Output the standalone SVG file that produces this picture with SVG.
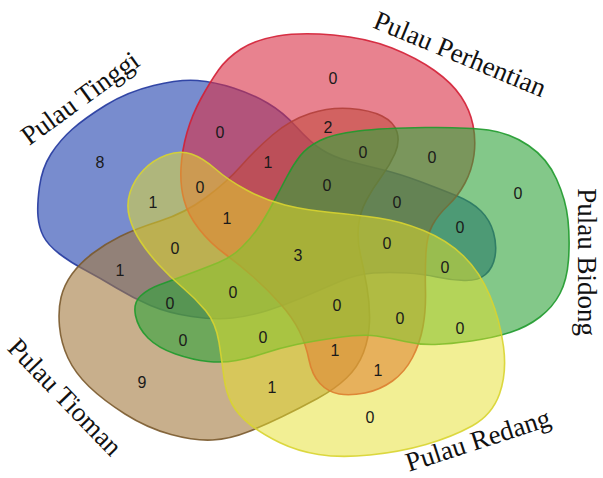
<svg xmlns="http://www.w3.org/2000/svg" width="603" height="478" viewBox="0 0 603 478">
<style>
.set{fill-opacity:0.6;stroke-width:1.6;stroke-opacity:0.9}
#set-redang path{fill-opacity:0.5}
.num{font-family:"Liberation Sans",Arial,sans-serif;font-size:16px;fill:#1a1a1a;text-anchor:middle}
.lbl{font-family:"Liberation Serif","Times New Roman",serif;font-size:27px;fill:#111;text-anchor:middle}
</style>
<rect width="603" height="478" fill="#ffffff"/>
<g id="set-tinggi">
<path class="set" fill="#1e3fae" stroke="#23399e" d="M 39.5,186.5 Q 42,168 51,154 Q 60,140 72.5,129 Q 85,118 106,105 Q 127,92 153.5,85.5 Q 180,79 197.5,80.5 Q 215,82 233.5,88 Q 252,94 267.5,103 Q 283,112 296.5,127 Q 310,142 321.5,149.5 Q 333,157 350,161.5 Q 367,166 383.5,170 Q 400,174 420,181.5 Q 440,189 456,195.5 Q 472,202 481,211 Q 490,220 493.5,232.5 Q 497,245 495,256.5 Q 493,268 485.5,274.5 Q 478,281 464,280.5 Q 450,280 436.5,277 Q 423,274 406.5,273 Q 390,272 373.5,273 Q 357,274 338.5,282 Q 320,290 302.5,297.5 Q 285,305 267.5,310.5 Q 250,316 232.5,318 Q 215,320 191.5,316.5 Q 168,313 150.5,305.5 Q 133,298 116.5,288 Q 100,278 85,270 Q 70,262 59,253.5 Q 48,245 43.5,236.5 Q 39,228 38,216.5 Q 37,205 39.5,186.5 Z"/>
</g>
<g id="set-tioman">
<path class="set" fill="#a37a3f" stroke="#7a5a2e" d="M 241,166 Q 255,150 272.5,135 Q 290,120 310,113.5 Q 330,107 350,108.5 Q 370,110 382,116 Q 394,122 397,132 Q 400,142 395,153.5 Q 390,165 381.5,176.5 Q 373,188 366.5,200 Q 360,212 358.5,226 Q 357,240 360.5,255 Q 364,270 367,287.5 Q 370,305 369.5,321.5 Q 369,338 363.5,352.5 Q 358,367 346.5,378 Q 335,389 317.5,398.5 Q 300,408 282.5,416.5 Q 265,425 247.5,432 Q 230,439 212.5,440 Q 195,441 171,434.5 Q 147,428 125,414 Q 103,400 89,386.5 Q 75,373 68,358 Q 61,343 59.5,326.5 Q 58,310 61,297.5 Q 64,285 72,274 Q 80,263 92.5,253.5 Q 105,244 120,236.5 Q 135,229 160,221 Q 185,213 206,197.5 Q 227,182 241,166 Z"/>
</g>
<g id="set-perhentian">
<path class="set" fill="#d82f45" stroke="#d31f35" d="M 218.5,70 Q 227,58 241,49 Q 255,40 277.5,36 Q 300,32 333.5,35 Q 367,38 392,48 Q 417,58 434.5,70.5 Q 452,83 461,96.5 Q 470,110 473,125 Q 476,140 474,155 Q 472,170 465,183 Q 458,196 448,205.5 Q 438,215 432.5,225 Q 427,235 426,252.5 Q 425,270 425.5,290 Q 426,310 423,326.5 Q 420,343 412.5,357.5 Q 405,372 392.5,381 Q 380,390 365,393 Q 350,396 339,394 Q 328,392 320,383.5 Q 312,375 309,360 Q 306,345 299.5,331.5 Q 293,318 280.5,304 Q 268,290 254,277.5 Q 240,265 225,254 Q 210,243 199,229 Q 188,215 184,200 Q 180,185 181,167.5 Q 182,150 187,132.5 Q 192,115 201,98.5 Q 210,82 218.5,70 Z"/>
</g>
<g id="set-bidong">
<path class="set" fill="#31a33a" stroke="#1f9a2c" d="M 320,140.5 Q 333,134 358,131 Q 383,128 425,127.5 Q 467,127 488.5,130 Q 510,133 528.5,145.5 Q 547,158 556.5,179 Q 566,200 568,220 Q 570,240 568.5,260 Q 567,280 560,293.5 Q 553,307 540,317 Q 527,327 510,332.5 Q 493,338 471.5,341 Q 450,344 435,344.5 Q 420,345 405,341.5 Q 390,338 376.5,336 Q 363,334 338,337.5 Q 313,341 296.5,344.5 Q 280,348 265,353 Q 250,358 236.5,360.5 Q 223,363 208,361.5 Q 193,360 175.5,354 Q 158,348 148,338 Q 138,328 135.5,315.5 Q 133,303 140.5,296 Q 148,289 159,285 Q 170,281 187.5,274.5 Q 205,268 218.5,262.5 Q 232,257 242,247 Q 252,237 258.5,227.5 Q 265,218 272.5,204 Q 280,190 286.5,177.5 Q 293,165 300,156 Q 307,147 320,140.5 Z"/>
</g>
<g id="set-redang">
<path class="set" fill="#e6df2a" stroke="#d8d430" d="M 130,192.5 Q 134,180 143.5,170 Q 153,160 166.5,155 Q 180,150 191.5,154 Q 203,158 215.5,169 Q 228,180 246.5,190 Q 265,200 285,205 Q 305,210 331,212.5 Q 357,215 378.5,218 Q 400,221 423.5,230.5 Q 447,240 463.5,256 Q 480,272 490,296 Q 500,320 503.5,346.5 Q 507,373 499.5,394 Q 492,415 472,426 Q 452,437 426,444.5 Q 400,452 370,455 Q 340,458 318.5,454.5 Q 297,451 279.5,442.5 Q 262,434 250,424.5 Q 238,415 232,404 Q 226,393 224,377.5 Q 222,362 219,342.5 Q 216,323 205.5,310.5 Q 195,298 182.5,287.5 Q 170,277 159,265 Q 148,253 140.5,241.5 Q 133,230 129.5,217.5 Q 126,205 130,192.5 Z"/>
</g>
<g id="labels">
<text class="lbl" transform="translate(80,98) rotate(-36)" x="0" y="9">Pulau Tinggi</text>
<text class="lbl" transform="translate(460,54) rotate(22.5)" x="0" y="9">Pulau Perhentian</text>
<text class="lbl" transform="translate(587,262) rotate(90)" x="0" y="9">Pulau Bidong</text>
<text class="lbl" transform="translate(478,440) rotate(-18)" x="0" y="9">Pulau Redang</text>
<text class="lbl" transform="translate(65,397) rotate(46)" x="0" y="9">Pulau Tioman</text>
</g>
<g id="counts">
<text class="num" x="100" y="168">8</text>
<text class="num" x="220" y="138">0</text>
<text class="num" x="268" y="168">1</text>
<text class="num" x="200" y="193">0</text>
<text class="num" x="153" y="208">1</text>
<text class="num" x="227" y="224">1</text>
<text class="num" x="333" y="84">0</text>
<text class="num" x="328" y="133">2</text>
<text class="num" x="363" y="158">0</text>
<text class="num" x="432" y="163">0</text>
<text class="num" x="518" y="199">0</text>
<text class="num" x="327" y="191">0</text>
<text class="num" x="397" y="208">0</text>
<text class="num" x="460" y="233">0</text>
<text class="num" x="175" y="254">0</text>
<text class="num" x="298" y="261">3</text>
<text class="num" x="120" y="276">1</text>
<text class="num" x="170" y="309">0</text>
<text class="num" x="233" y="298">0</text>
<text class="num" x="183" y="346">0</text>
<text class="num" x="263" y="343">0</text>
<text class="num" x="142" y="388">9</text>
<text class="num" x="272" y="393">1</text>
<text class="num" x="387" y="249">0</text>
<text class="num" x="445" y="273">0</text>
<text class="num" x="337" y="311">0</text>
<text class="num" x="400" y="324">0</text>
<text class="num" x="460" y="334">0</text>
<text class="num" x="335" y="356">1</text>
<text class="num" x="378" y="376">1</text>
<text class="num" x="370" y="423">0</text>
</g>
</svg>
